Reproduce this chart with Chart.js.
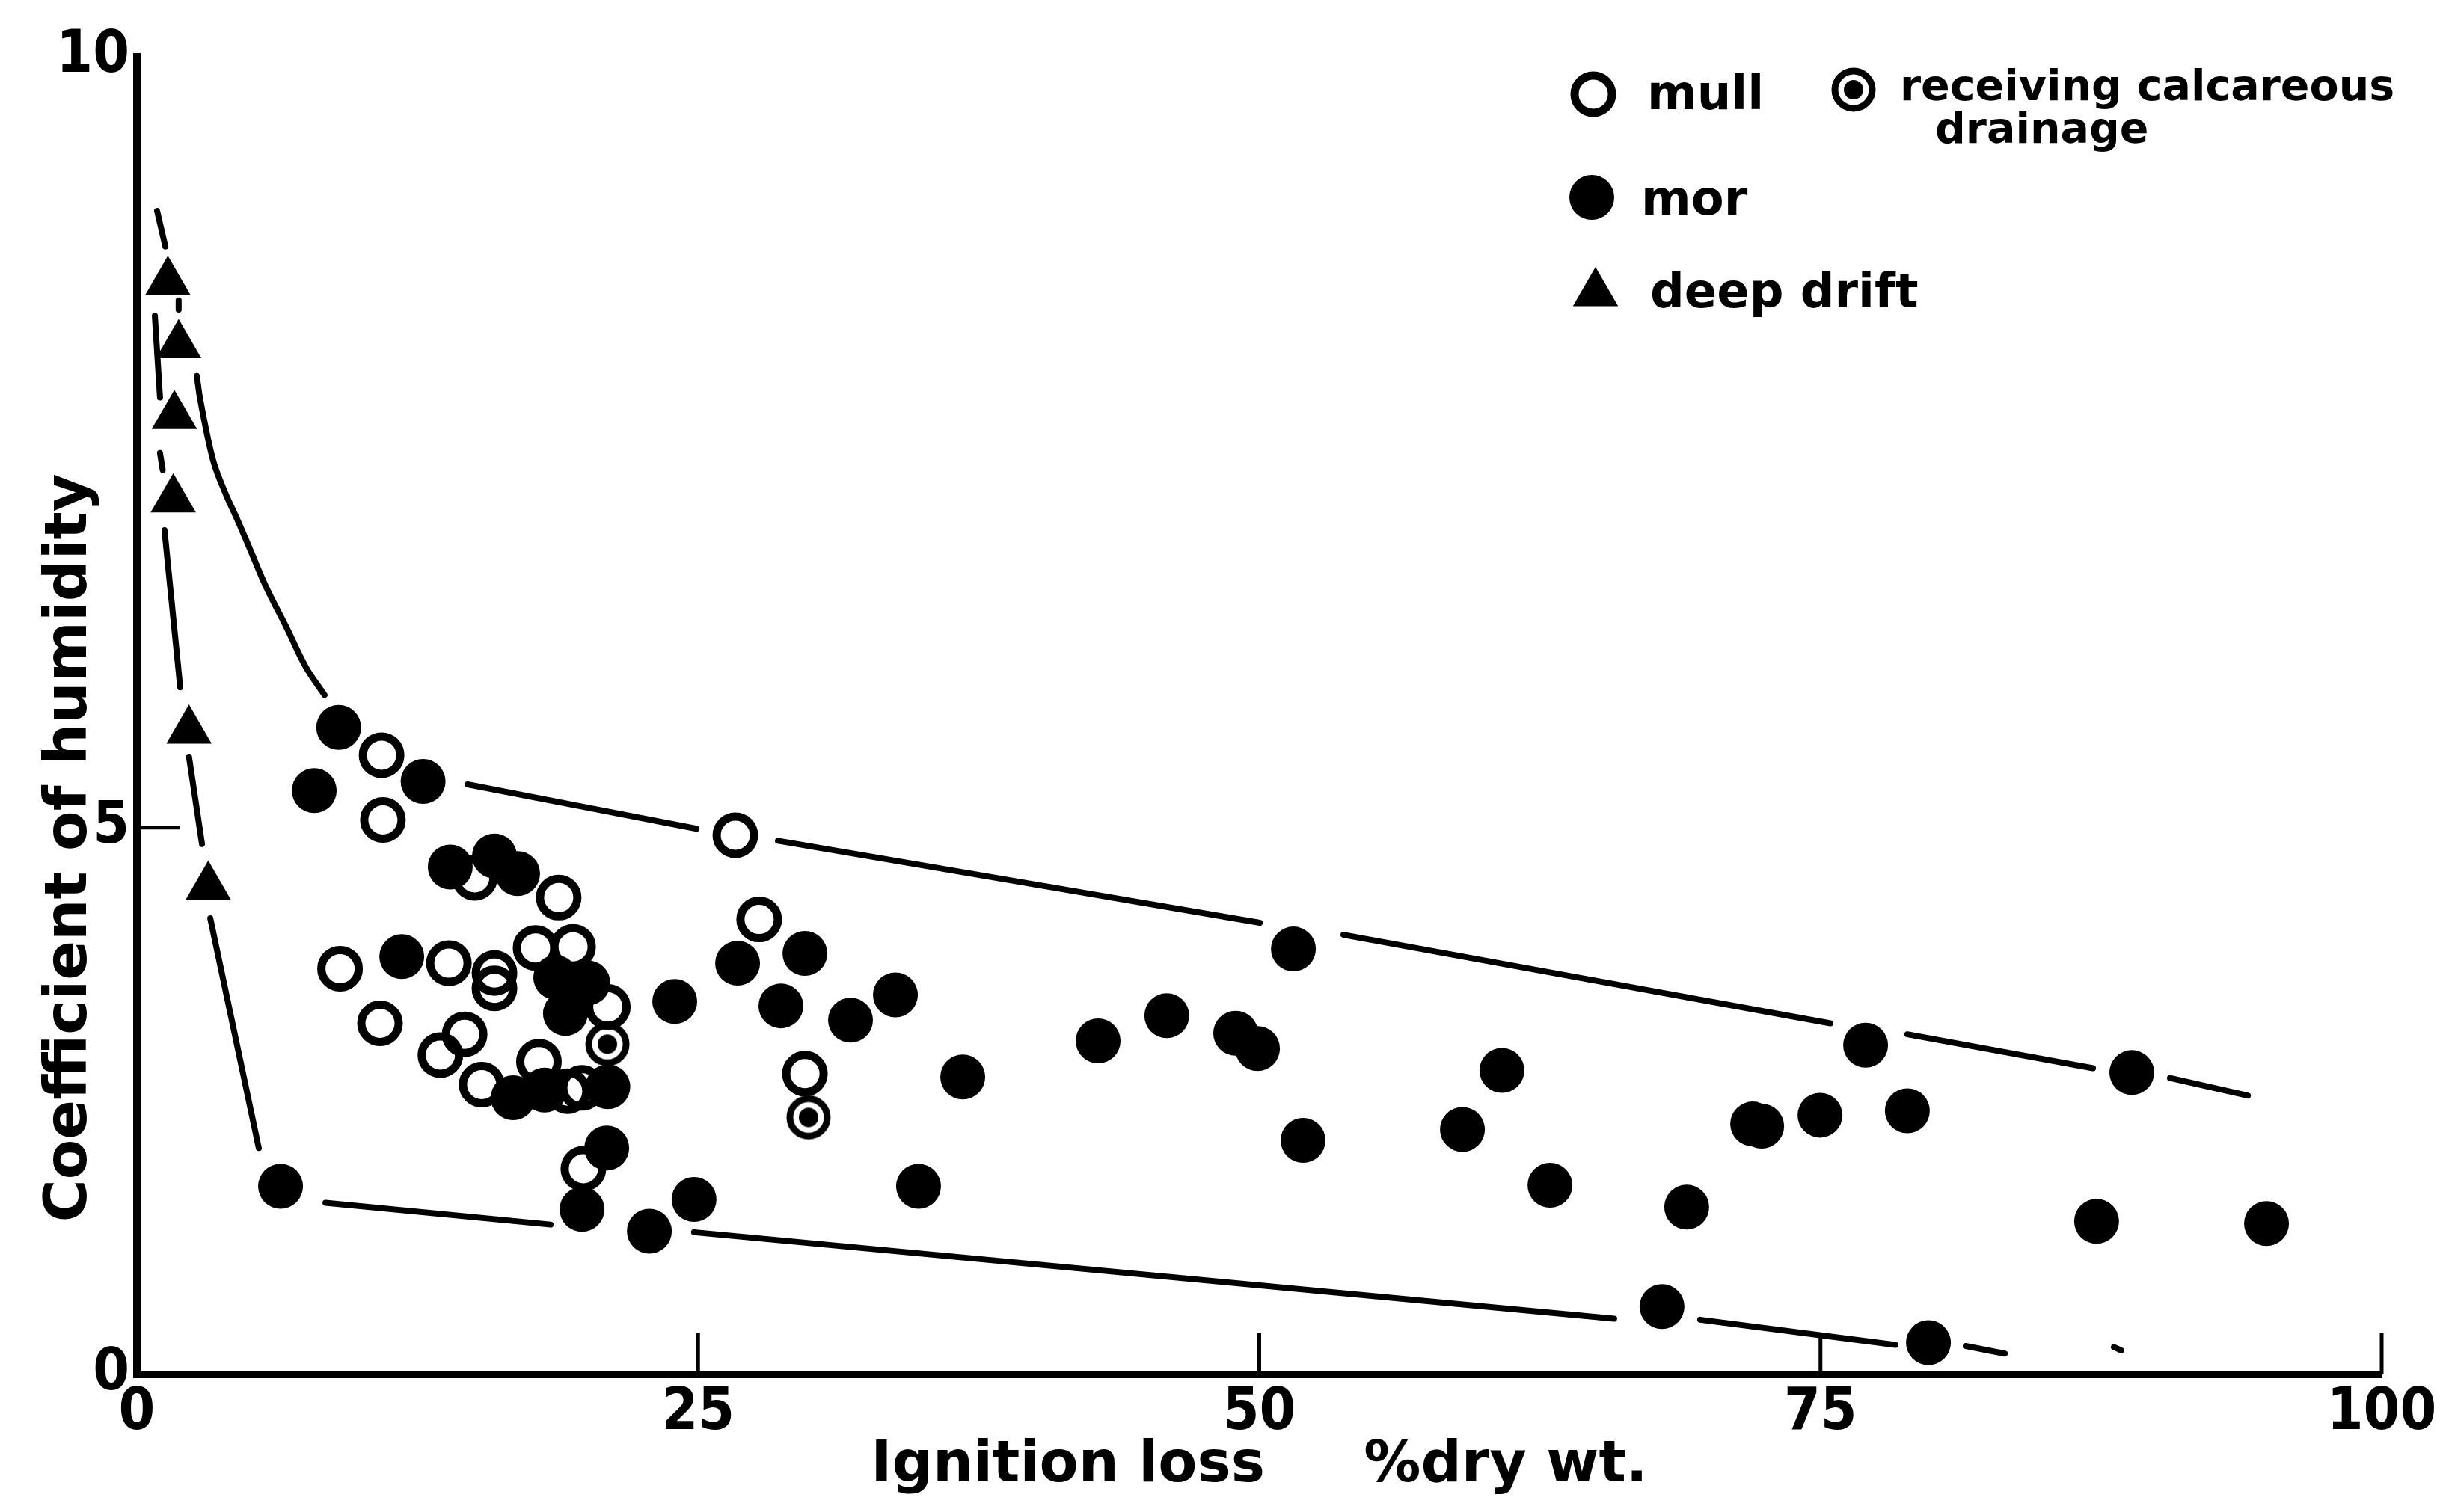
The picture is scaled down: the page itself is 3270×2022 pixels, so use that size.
<!DOCTYPE html>
<html>
<head>
<meta charset="utf-8">
<title>Coefficient of humidity and ignition loss</title>
<script src="https://cdn.jsdelivr.net/npm/chart.js@4.4.1/dist/chart.umd.min.js"></script>
<style>
  html, body { margin: 0; padding: 0; background: #fff; overflow: hidden; }
  #wrap { width: 3270px; height: 2022px; }
</style>
</head>
<body>
<div id="wrap"><canvas id="humidityChart"></canvas></div>
<script>
// axis ticks
const ticksX = [0, 25, 50, 75, 100];
const ticksY = [0, 5, 10];

// mull (open circles)
const mullX = [10.90, 10.96, 15.05, 18.79, 9.05, 13.90, 15.93, 15.93, 17.76, 19.43, 20.98,
               10.83, 14.60, 13.52, 17.91, 15.36, 19.19, 19.83, 19.89, 26.66, 27.72, 29.76];
const mullY = [5.47, 5.05, 4.54, 4.36, 3.71, 3.76, 3.67, 3.53, 3.90, 3.91, 3.36,
               3.21, 3.11, 2.92, 2.86, 2.65, 2.59, 2.62, 1.88, 4.93, 4.16, 2.75];

// mull receiving calcareous drainage
const calcX = [20.96, 29.92];
const calcY = [3.02, 2.35];

// mor (filled circles)
const morX = [6.40, 8.99, 7.90, 12.75, 11.80, 13.96, 15.93, 16.96, 18.66, 20.09, 19.09, 23.96,
              20.98, 16.76, 18.16, 20.93, 19.83, 22.83, 24.82, 26.76, 29.76, 28.69, 31.79, 33.79,
              34.82, 36.79, 42.82, 45.88, 48.95, 49.92, 51.52, 51.95, 59.05, 60.81, 62.95, 69.04,
              67.94, 71.98, 72.38, 74.98, 77.01, 78.87, 79.81, 87.30, 88.87, 94.87];
const morY = [1.72, 5.65, 5.24, 5.30, 3.82, 4.64, 4.74, 4.58, 3.63, 3.58, 3.30, 3.41,
              2.63, 2.53, 2.60, 2.07, 1.51, 1.31, 1.60, 3.76, 3.85, 3.37, 3.24, 3.47,
              1.72, 2.72, 3.05, 3.28, 3.12, 2.98, 3.89, 2.14, 2.24, 2.78, 1.73, 1.53,
              0.62, 2.29, 2.27, 2.37, 3.01, 2.41, 0.29, 1.40, 2.76, 1.38];

// deep drift (triangles)
const driftX = [1.38, 1.86, 1.67, 1.62, 2.32, 3.18];
const driftY = [8.54, 8.13, 7.67, 7.13, 5.63, 4.46];

// hand drawn envelope curves, broken (null) where they pass behind a point
const upperCurveX = [1.86, 1.86, null,
                     2.67, 2.83, 3.40, 3.97, 4.50, 5.00, 5.76, 6.66, 7.53, 8.36, null,
                     14.73, 24.93, null, 28.56, 50.02, null, 53.75, 75.44, null,
                     78.87, 87.14, null, 90.57, 94.04];
const upperCurveY = [8.42, 8.36, null,
                     7.93, 7.77, 7.38, 7.16, 6.99, 6.82, 6.56, 6.30, 6.04, 5.86, null,
                     5.28, 4.99, null, 4.88, 4.13, null, 4.02, 3.21, null,
                     3.11, 2.80, null, 2.71, 2.55];
const lowerCurveX = [0.90, 1.27, null, 0.80, 1.03, null, 1.03, 1.15, null, 1.23, 1.93, null,
                     2.32, 2.90, null, 3.27, 5.43, null, 8.40, 18.43, null, 24.82, 65.81, null,
                     69.64, 78.34, null, 81.47, 83.21, null, 88.07, 88.40];
const lowerCurveY = [9.00, 8.77, null, 8.32, 7.79, null, 7.43, 7.32, null, 6.93, 5.91, null,
                     5.46, 4.85, null, 4.17, 2.07, null, 1.57, 1.37, null, 1.30, 0.51, null,
                     0.50, 0.27, null, 0.26, 0.19, null, 0.25, 0.22];

const pts = (xs, ys) => xs.map((x, i) => ({ x: x, y: ys[i] }));

// the printed y axis is not uniform: 0-5 takes less height than 5-10
const Y_BREAK = 5;
const Y_BREAK_SHARE = 0.415;

class HumidityScale extends Chart.LinearScale {
    getPixelForValue(value) {
        if (value === null || isNaN(value)) return NaN;
        const share = value <= Y_BREAK
            ? value / Y_BREAK * Y_BREAK_SHARE
            : Y_BREAK_SHARE + (value - Y_BREAK) / (this.max - Y_BREAK) * (1 - Y_BREAK_SHARE);
        return this.getPixelForDecimal(share);
    }
    getValueForPixel(pixel) {
        const share = this.getDecimalForPixel(pixel);
        return share <= Y_BREAK_SHARE
            ? share / Y_BREAK_SHARE * Y_BREAK
            : Y_BREAK + (share - Y_BREAK_SHARE) / (1 - Y_BREAK_SHARE) * (this.max - Y_BREAK);
    }
}
HumidityScale.id = 'humidity';
Chart.register(HumidityScale);

// ringed dot for "receiving calcareous drainage"
const calcIcon = document.createElement('canvas');
calcIcon.width = 64;
calcIcon.height = 64;
(function () {
    const c = calcIcon.getContext('2d');
    c.lineWidth = 9;
    c.strokeStyle = '#000';
    c.beginPath();
    c.arc(32, 32, 25, 0, Math.PI * 2);
    c.stroke();
    c.fillStyle = '#000';
    c.beginPath();
    c.arc(32, 32, 13, 0, Math.PI * 2);
    c.fill();
})();

const handFont = "'DejaVu Sans', 'Liberation Sans', sans-serif";
const tickFont = {
    family: "'DejaVu Sans Condensed', 'Liberation Sans Narrow', 'DejaVu Sans', sans-serif",
    size: 78,
    weight: 'bold'
};

// inward tick marks, y title and the legend block
const figureExtras = {
    id: 'figureExtras',
    afterDraw(chart) {
        const { ctx, chartArea: area, scales } = chart;
        const ds = chart.data.datasets;
        ctx.save();
        ctx.strokeStyle = '#000';
        ctx.lineWidth = 5;
        ticksX.slice(1).forEach(v => {
            const px = scales.x.getPixelForValue(v);
            ctx.beginPath();
            ctx.moveTo(px, area.bottom);
            ctx.lineTo(px, area.bottom - 55);
            ctx.stroke();
        });
        ticksY.slice(1, -1).forEach(v => {
            const py = scales.y.getPixelForValue(v);
            ctx.beginPath();
            ctx.moveTo(area.left, py);
            ctx.lineTo(area.left + 57, py);
            ctx.stroke();
        });

        // y title
        ctx.fillStyle = '#000';
        ctx.save();
        ctx.translate(area.left - 68, area.bottom - 704);
        ctx.rotate(-Math.PI / 2);
        ctx.font = 'bold 78px ' + handFont;
        ctx.textAlign = 'center';
        ctx.textBaseline = 'alphabetic';
        ctx.fillText('Coefficient of humidity', 0, 0);
        ctx.restore();

        // legend
        const lx = area.right - 1054;
        const ly = area.top;
        const symbol = (d, x, y) => {
            ctx.fillStyle = d.backgroundColor;
            ctx.strokeStyle = d.borderColor;
            ctx.lineWidth = d.borderWidth;
            Chart.helpers.drawPoint(ctx, {
                pointStyle: d.pointStyle, radius: d.pointRadius, rotation: 0, borderWidth: d.borderWidth
            }, x, y);
        };
        symbol(ds[0], lx, ly + 50);
        symbol(ds[1], lx + 348, ly + 44);
        symbol(ds[2], lx - 2, ly + 188);
        symbol(ds[3], lx + 3, ly + 316);

        ctx.fillStyle = '#000';
        ctx.textAlign = 'left';
        ctx.textBaseline = 'alphabetic';
        ctx.font = 'bold 64px ' + handFont;
        ctx.fillText('mull', lx + 72, ly + 70);
        ctx.fillText('mor', lx + 64, ly + 211);
        ctx.fillText('deep drift', lx + 76, ly + 335);
        ctx.font = 'bold 57px ' + handFont;
        ctx.fillText('receiving calcareous', lx + 410, ly + 58);
        ctx.fillText('drainage', lx + 457, ly + 115);
        ctx.restore();
    }
};

Chart.defaults.color = '#000';

const ctx = document.getElementById('humidityChart').getContext('2d');
new Chart(ctx, {
    type: 'scatter',
    data: {
        datasets: [
            {
                label: 'mull',
                data: pts(mullX, mullY),
                pointStyle: 'circle',
                pointRadius: 25,
                borderWidth: 11,
                borderColor: '#000',
                backgroundColor: 'rgba(0,0,0,0)',
                order: 3
            },
            {
                label: 'receiving calcareous drainage',
                data: pts(calcX, calcY),
                pointStyle: calcIcon,
                pointRadius: 30,
                borderWidth: 0,
                borderColor: '#000',
                backgroundColor: '#000',
                order: 2
            },
            {
                label: 'mor',
                data: pts(morX, morY),
                pointStyle: 'circle',
                pointRadius: 30,
                borderWidth: 0,
                borderColor: '#000',
                backgroundColor: '#000',
                order: 1
            },
            {
                label: 'deep drift',
                data: pts(driftX, driftY),
                pointStyle: 'triangle',
                pointRadius: 35,
                borderWidth: 0,
                borderColor: '#000',
                backgroundColor: '#000',
                order: 0
            },
            {
                label: 'upper limit',
                data: pts(upperCurveX, upperCurveY),
                showLine: true,
                tension: 0.35,
                pointRadius: 0,
                borderColor: '#000',
                borderWidth: 8,
                borderCapStyle: 'round',
                order: 4
            },
            {
                label: 'lower limit',
                data: pts(lowerCurveX, lowerCurveY),
                showLine: true,
                pointRadius: 0,
                borderColor: '#000',
                borderWidth: 8,
                borderCapStyle: 'round',
                order: 4
            }
        ]
    },
    options: {
        responsive: true,
        maintainAspectRatio: false,
        animation: false,
        events: [],
        layout: { padding: { top: 76, right: 86, bottom: 0, left: 0 } },
        plugins: {
            legend: { display: false },
            tooltip: { enabled: false }
        },
        scales: {
            x: {
                type: 'linear',
                min: 0,
                max: 100,
                afterBuildTicks: s => { s.ticks = ticksX.map(v => ({ value: v })); },
                afterFit: s => { s.height = 184; },
                grid: { display: false, drawTicks: false },
                border: { display: true, color: '#000', width: 10 },
                ticks: { color: '#000', padding: 6, font: tickFont, maxRotation: 0, autoSkip: false },
                title: {
                    display: true,
                    text: 'Ignition loss     %dry wt.',
                    color: '#000',
                    font: { family: handFont, size: 76, weight: 'bold' },
                    padding: { top: 0, bottom: 15 }
                }
            },
            y: {
                type: 'humidity',
                min: 0,
                max: 10,
                afterBuildTicks: s => { s.ticks = ticksY.map(v => ({ value: v })); },
                afterFit: s => { s.width = 183; },
                grid: { display: false, drawTicks: false },
                border: { display: true, color: '#000', width: 10 },
                ticks: { color: '#000', padding: 10, font: tickFont, autoSkip: false }
            }
        }
    },
    plugins: [figureExtras]
});
</script>
</body>
</html>
